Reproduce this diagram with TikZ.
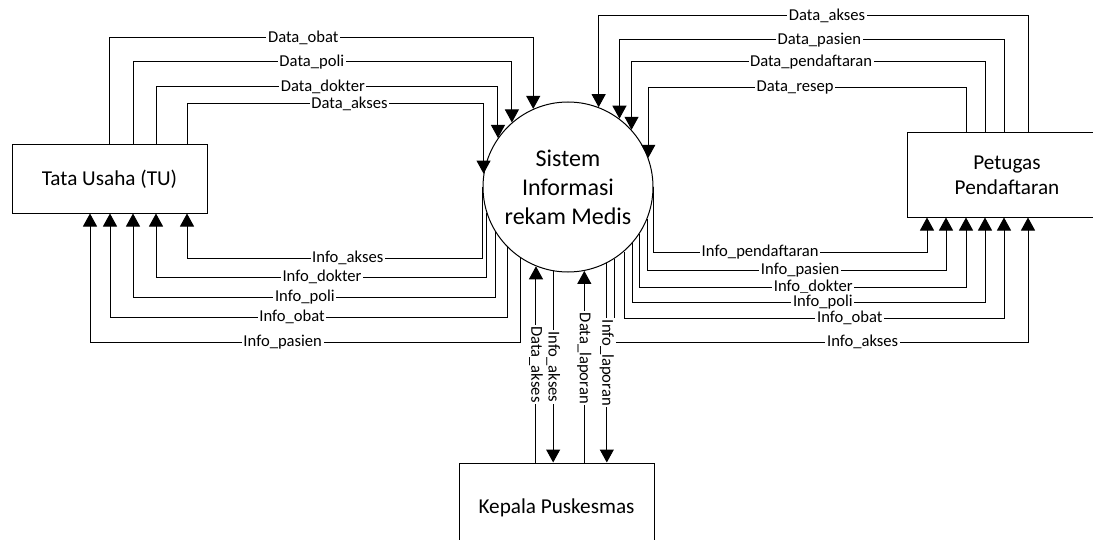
\documentclass[tikz,border=0pt]{standalone}
\usepackage{fontspec}
\setmainfont{Carlito}
\usepackage{tikz}
\usetikzlibrary{arrows.meta}

\begin{document}
\begin{tikzpicture}[x=0.5pt,y=-0.5pt,line width=0.5pt,
    entity/.style={draw,rectangle,align=center,font=\fontsize{10.6}{12.5}\selectfont},
    proc/.style={draw,circle,minimum size=85pt,inner sep=0pt,align=center,font=\fontsize{12}{14.5}\selectfont},
    flow/.style={-{Triangle[length=6.5pt,width=7pt]}},
    lbl/.style={fill=white,inner sep=0.8pt,font=\fontsize{8.3}{9}\selectfont}]
\useasboundingbox (0,0) rectangle (1093,540);
\node[entity,minimum width=97.5pt,minimum height=34pt] (tu) at (109.5,179) {Tata Usaha (TU)};
\node[proc] (sim) at (568,187) {Sistem\\Informasi\\rekam Medis};
\node[entity,minimum width=100pt,minimum height=42pt] (pet) at (1007,175) {Petugas\\Pendaftaran};
\node[entity,minimum width=97.5pt,minimum height=45pt] (kep) at (556.5,508) {Kepala Puskesmas};

\draw[flow] (tu.north -| 109,0) -- (109,38) -| node[lbl,pos=.229]{Data\_obat} (sim.114);
\draw[flow] (tu.north -| 133,0) -- (133,62) -| node[lbl,pos=.236]{Data\_poli} (sim.131);
\draw[flow] (tu.north -| 156,0) -- (156,87) -| node[lbl,pos=.244]{Data\_dokter} (sim.145);
\draw[flow] (tu.north -| 187,0) -- (187,104) -| node[lbl,pos=.274]{Data\_akses} (sim.171);

\draw[flow] (sim.180) |- node[lbl,pos=.728]{Info\_akses} (187,258) -- (tu.south -| 187,0);
\draw[flow] (sim.198) |- node[lbl,pos=.749]{Info\_dokter} (156,277) -- (tu.south -| 156,0);
\draw[flow] (sim.212) |- node[lbl,pos=.763]{Info\_poli} (133,297) -- (tu.south -| 133,0);
\draw[flow] (sim.225) |- node[lbl,pos=.771]{Info\_obat} (110,317) -- (tu.south -| 110,0);
\draw[flow] (sim.236) |- node[lbl,pos=.776]{Info\_pasien} (90,342) -- (tu.south -| 90,0);

\draw[flow] (pet.north -| 1028,0) -- (1028,16) -| node[lbl,pos=.234]{Data\_akses} (sim.69);
\draw[flow] (pet.north -| 1004,0) -- (1004,40) -| node[lbl,pos=.24]{Data\_pasien} (sim.53);
\draw[flow] (pet.north -| 985,0) -- (985,62) -| node[lbl,pos=.246]{Data\_pendaftaran} (sim.42);
\draw[flow] (pet.north -| 966,0) -- (966,88) -| node[lbl,pos=.269]{Data\_resep} (sim.20);

\draw[flow] (sim.0) |- node[lbl,pos=.695]{Info\_pendaftaran} (927,252) -- (pet.south -| 927,0);
\draw[flow] (sim.338) |- node[lbl,pos=.756]{Info\_pasien} (946,270) -- (pet.south -| 946,0);
\draw[flow] (sim.327) |- node[lbl,pos=.766]{Info\_dokter} (966,287) -- (pet.south -| 966,0);
\draw[flow] (sim.319) |- node[lbl,pos=.77]{Info\_poli} (985,302) -- (pet.south -| 985,0);
\draw[flow] (sim.311) |- node[lbl,pos=.797]{Info\_obat} (1004,318) -- (pet.south -| 1004,0);
\draw[flow] (sim.303) |- node[lbl,pos=.8]{Info\_akses} (1028,342) -- (pet.south -| 1028,0);

\draw[flow] (kep.north -| sim.248) -- node[lbl,rotate=-90]{Data\_akses} (sim.248);
\draw[flow] (sim.260) -- node[lbl,rotate=-90]{Info\_akses} (kep.north -| sim.260);
\draw[flow] (kep.north -| sim.281) -- node[lbl,rotate=-90,pos=.544]{Data\_laporan} (sim.281);
\draw[flow] (sim.297) -- node[lbl,rotate=-90]{Info\_laporan} (kep.north -| sim.297);
\end{tikzpicture}
\end{document}
